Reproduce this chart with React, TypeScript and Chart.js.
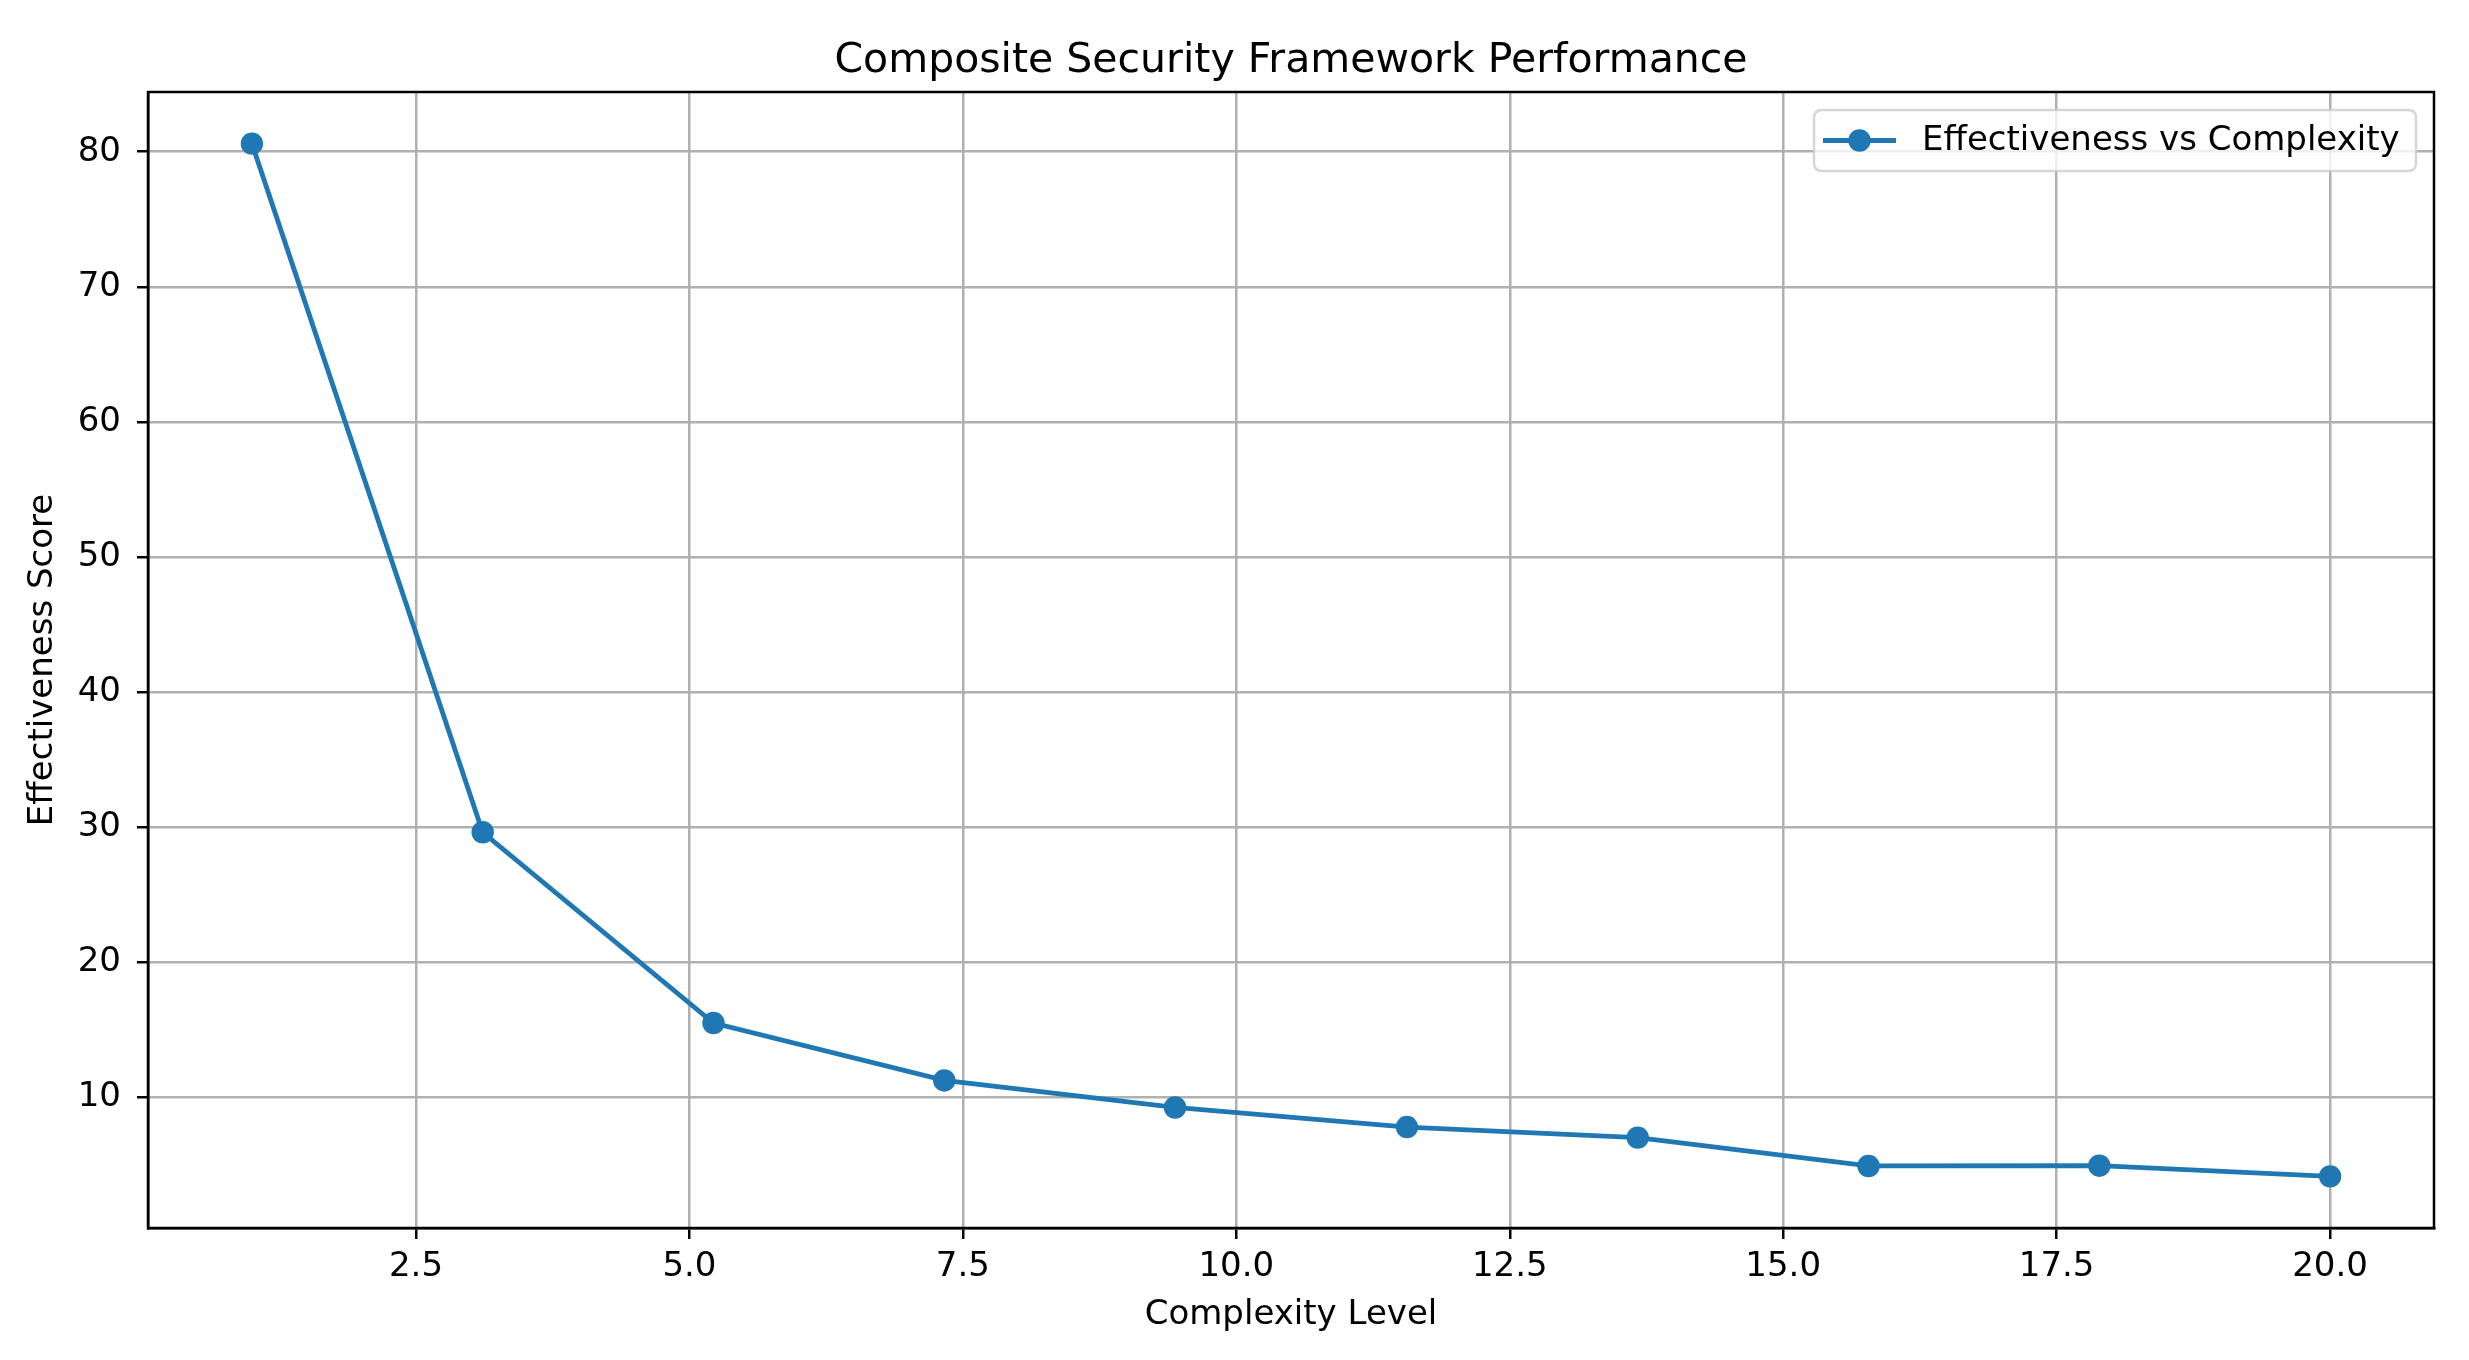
import React, { useEffect, useRef } from "react";
import { Chart, registerables } from "chart.js";

Chart.register(...registerables);

const TITLE = "Composite Security Framework Performance";
const X_LABEL = "Complexity Level";
const Y_LABEL = "Effectiveness Score";
const SERIES_LABEL = "Effectiveness vs Complexity";

const complexityLevels = [1, 3.11, 5.22, 7.33, 9.44, 11.56, 13.67, 15.78, 17.89, 20];
const effectivenessScores = [80.6, 29.63, 15.51, 11.26, 9.26, 7.81, 7.03, 4.93, 4.95, 4.16];

const xTickStep = 2.5;
const yTickStep = 10;

const BLUE = "#1f77b4";
const FONT = "'DejaVu Sans', 'Liberation Sans', sans-serif";
const TICK_SIZE = 34;
const TITLE_SIZE = 41;
const MARKER_R = 11.2;

function withMargin(values: number[], frac: number) {
  const lo = Math.min(...values);
  const hi = Math.max(...values);
  const pad = (hi - lo) * frac;
  return [lo - pad, hi + pad];
}

const framePlugin = {
  id: "frameAndExtras",
  afterDraw(chart: any) {
    const { ctx, chartArea } = chart;
    const { left, right, top, bottom } = chartArea;
    ctx.save();
    // spines
    ctx.strokeStyle = "#000";
    ctx.lineWidth = 2.5;
    ctx.beginPath();
    ctx.rect(left, top, right - left, bottom - top);
    ctx.stroke();

    // title
    ctx.fillStyle = "#000";
    ctx.font = `${TITLE_SIZE}px ${FONT}`;
    ctx.textAlign = "center";
    ctx.textBaseline = "alphabetic";
    ctx.fillText(TITLE, (left + right) / 2, top - 20);

    // legend
    const lx = 1814, ly = 110, lw = 602, lh = 61, r = 8;
    ctx.globalAlpha = 0.8;
    ctx.fillStyle = "#fff";
    ctx.strokeStyle = "#cccccc";
    ctx.lineWidth = 2.5;
    ctx.beginPath();
    ctx.moveTo(lx + r, ly);
    ctx.lineTo(lx + lw - r, ly);
    ctx.quadraticCurveTo(lx + lw, ly, lx + lw, ly + r);
    ctx.lineTo(lx + lw, ly + lh - r);
    ctx.quadraticCurveTo(lx + lw, ly + lh, lx + lw - r, ly + lh);
    ctx.lineTo(lx + r, ly + lh);
    ctx.quadraticCurveTo(lx, ly + lh, lx, ly + lh - r);
    ctx.lineTo(lx, ly + r);
    ctx.quadraticCurveTo(lx, ly, lx + r, ly);
    ctx.closePath();
    ctx.fill();
    ctx.stroke();
    ctx.globalAlpha = 1;
    const cy = ly + lh / 2;
    ctx.strokeStyle = BLUE;
    ctx.lineWidth = 4.8;
    ctx.beginPath();
    ctx.moveTo(1823, cy);
    ctx.lineTo(1896, cy);
    ctx.stroke();
    ctx.fillStyle = BLUE;
    ctx.beginPath();
    ctx.arc(1859.5, cy, MARKER_R, 0, Math.PI * 2);
    ctx.fill();
    ctx.fillStyle = "#000";
    ctx.font = `${TICK_SIZE}px ${FONT}`;
    ctx.textAlign = "left";
    ctx.textBaseline = "middle";
    const label = chart.data.datasets[0].label;
    ctx.fillText(label, 1922, cy + 1);
    ctx.restore();
  },
};

export default function App() {
  const canvasRef = useRef<HTMLCanvasElement | null>(null);

  useEffect(() => {
    const canvas = canvasRef.current;
    if (!canvas) return;
    const [xMin, xMax] = withMargin(complexityLevels, 0.05);
    const [yMin, yMax] = withMargin(effectivenessScores, 0.05);
    const points = complexityLevels.map((x, i) => ({ x, y: effectivenessScores[i] }));

    const chart = new Chart(canvas, {
      type: "line",
      data: {
        datasets: [
          {
            label: SERIES_LABEL,
            data: points,
            borderColor: BLUE,
            backgroundColor: BLUE,
            borderWidth: 4.8,
            pointRadius: MARKER_R,
            pointBorderWidth: 0,
            pointBackgroundColor: BLUE,
            pointHoverRadius: MARKER_R,
            tension: 0,
            fill: false,
          },
        ],
      },
      options: {
        animation: false,
        responsive: false,
        devicePixelRatio: 1,
        layout: { padding: { top: 92, right: 35, left: 0, bottom: 0 } },
        plugins: {
          legend: { display: false },
          title: { display: false },
          tooltip: { enabled: false },
        },
        scales: {
          x: {
            type: "linear",
            min: xMin,
            max: xMax,
            afterFit: (s: any) => {
              s.height = 132;
            },
            ticks: {
              stepSize: xTickStep,
              includeBounds: false,
              autoSkip: false,
              maxRotation: 0,
              padding: 8,
              color: "#000",
              font: { family: FONT, size: TICK_SIZE },
              callback: (v: any) => Number(v).toFixed(1),
            },
            grid: {
              color: "#b0b0b0",
              lineWidth: 2.5,
              tickColor: "#000",
              tickWidth: 2.5,
              tickLength: 11,
            },
            border: { color: "#000", width: 2.5 },
            title: {
              display: true,
              text: X_LABEL,
              color: "#000",
              font: { family: FONT, size: TICK_SIZE },
              padding: { top: 0, bottom: 24 },
            },
          },
          y: {
            type: "linear",
            min: yMin,
            max: yMax,
            afterFit: (s: any) => {
              s.width = 148;
            },
            ticks: {
              stepSize: yTickStep,
              includeBounds: false,
              autoSkip: false,
              padding: 16,
              color: "#000",
              font: { family: FONT, size: TICK_SIZE },
              callback: (v: any) => String(Math.round(Number(v))),
            },
            grid: {
              color: "#b0b0b0",
              lineWidth: 2.5,
              tickColor: "#000",
              tickWidth: 2.5,
              tickLength: 11,
            },
            border: { color: "#000", width: 2.5 },
            title: {
              display: true,
              text: Y_LABEL,
              color: "#000",
              font: { family: FONT, size: TICK_SIZE },
              padding: { top: 23, bottom: 0 },
            },
          },
        },
      },
      plugins: [framePlugin],
    });
    return () => chart.destroy();
  }, []);

  return (
    <div style={{ position: "fixed", left: 0, top: 0, width: 2469, height: 1360, overflow: "hidden", background: "#fff" }}>
      <canvas ref={canvasRef} width={2469} height={1360} style={{ display: "block" }} />
    </div>
  );
}
